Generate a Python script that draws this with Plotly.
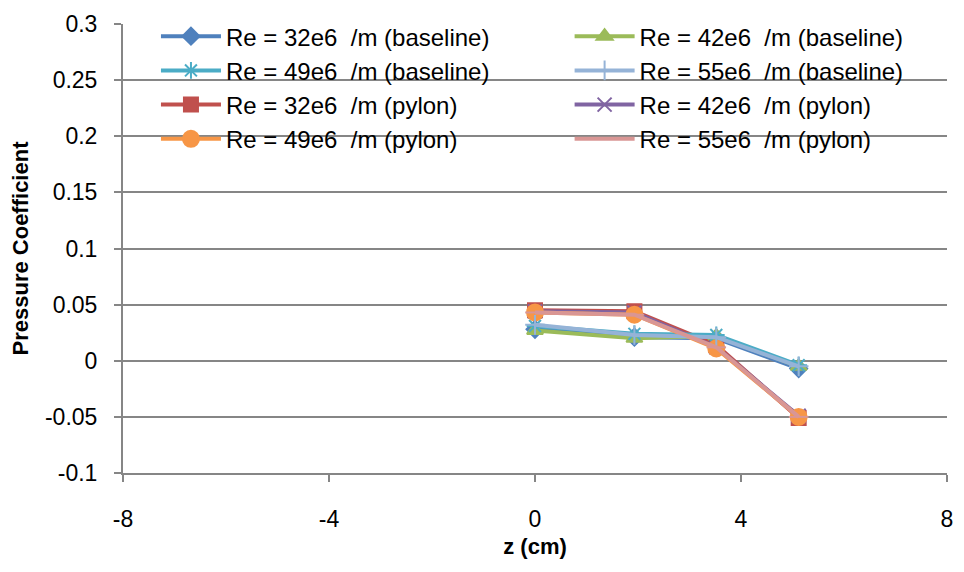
import plotly.graph_objs as go

# z positions (cm) of the taps
z = [0, 1.93, 3.52, 5.12]

# pressure coefficient, baseline
cp_32_base = [0.028, 0.021, 0.020, -0.007]
cp_42_base = [0.027, 0.020, 0.022, -0.005]
cp_49_base = [0.031, 0.024, 0.023, -0.004]
cp_55_base = [0.032, 0.023, 0.021, -0.005]
# pressure coefficient, pylon
cp_32_pyl = [0.045, 0.044, 0.014, -0.051]
cp_42_pyl = [0.044, 0.043, 0.012, -0.049]
cp_49_pyl = [0.043, 0.041, 0.011, -0.050]
cp_55_pyl = [0.043, 0.041, 0.012, -0.050]

names = ["Re = 32e6  /m (baseline)", "Re = 32e6  /m (pylon)",
         "Re = 42e6  /m (baseline)", "Re = 42e6  /m (pylon)",
         "Re = 49e6  /m (baseline)", "Re = 49e6  /m (pylon)",
         "Re = 55e6  /m (baseline)", "Re = 55e6  /m (pylon)"]
values = [cp_32_base, cp_32_pyl, cp_42_base, cp_42_pyl,
          cp_49_base, cp_49_pyl, cp_55_base, cp_55_pyl]
colors = ["#4F81BD", "#C0504D", "#9BBB59", "#8064A2",
          "#4BACC6", "#F79646", "#95B3D7", "#D99694"]
symbols = ["diamond", "square", "triangle-up", "x-thin",
           "asterisk-open", "circle", "cross-thin", "line-ew"]
sizes = [13, 14, 14, 14, 14, 16, 14, 14]
# legend column and position in it
legend_ids = ["legend", "legend", "legend2", "legend2",
              "legend", "legend", "legend2", "legend2"]
ranks = [1, 3, 1, 3, 2, 4, 2, 4]

x_ticks = [-8, -4, 0, 4, 8]
y_ticks = [-0.1, -0.05, 0, 0.05, 0.1, 0.15, 0.2, 0.25, 0.3]

fig = go.Figure()
for n, v, c, s, sz, lg, r in zip(names, values, colors, symbols, sizes, legend_ids, ranks):
    fig.add_trace(go.Scatter(
        x=z, y=v, name=n, mode="lines+markers", legend=lg, legendrank=r,
        line=dict(color=c, width=4),
        marker=dict(symbol=s, size=sz, color=c,
                    line=dict(color=c, width=2))))

leg_style = dict(orientation="v", yanchor="top", xanchor="left", y=1.022,
                 itemwidth=60, bgcolor="rgba(0,0,0,0)", font=dict(size=24),
                 traceorder="normal", tracegroupgap=0)

fig.update_layout(
    width=964, height=572,
    margin=dict(l=123, r=11, t=17, b=99),
    plot_bgcolor="white", paper_bgcolor="white",
    font=dict(family="Liberation Sans, Arial", size=23, color="black"),
    showlegend=True,
    legend=dict(x=0.04, **leg_style),
    legend2=dict(x=0.542, **leg_style),
    # white backing of the legend box, hiding the gridlines behind it
    shapes=[dict(type="rect", xref="paper", yref="y", x0=0.004, x1=1.0,
                 y0=0.165, y1=0.285, fillcolor="white", line_width=0,
                 layer="between")],
    xaxis=dict(range=[-8, 8], tickvals=x_ticks, ticktext=[str(t) for t in x_ticks],
               showgrid=False,
               zeroline=False, showline=True, linecolor="#868686", linewidth=2,
               ticks="outside", ticklen=7, tickcolor="#868686", tickwidth=2,
               ticklabelstandoff=17,
               title=dict(text="<b>z (cm)</b>", standoff=8, font=dict(size=22))),
    yaxis=dict(range=[-0.1, 0.3], tickvals=y_ticks,
               ticktext=["-0.1", "-0.05", "0", "0.05", "0.1", "0.15", "0.2", "0.25", "0.3"],
               showgrid=True, gridcolor="#868686", gridwidth=2, zeroline=False,
               showline=True, linecolor="#868686", linewidth=2,
               ticks="outside", ticklen=7, tickcolor="#868686", tickwidth=2,
               ticklabelstandoff=12,
               title=dict(text="<b>Pressure Coefficient</b>", standoff=10,
                          font=dict(size=22))),
)

fig.write_html("out.html", config={"displayModeBar": False},
               post_script="document.body.style.margin='0';")
